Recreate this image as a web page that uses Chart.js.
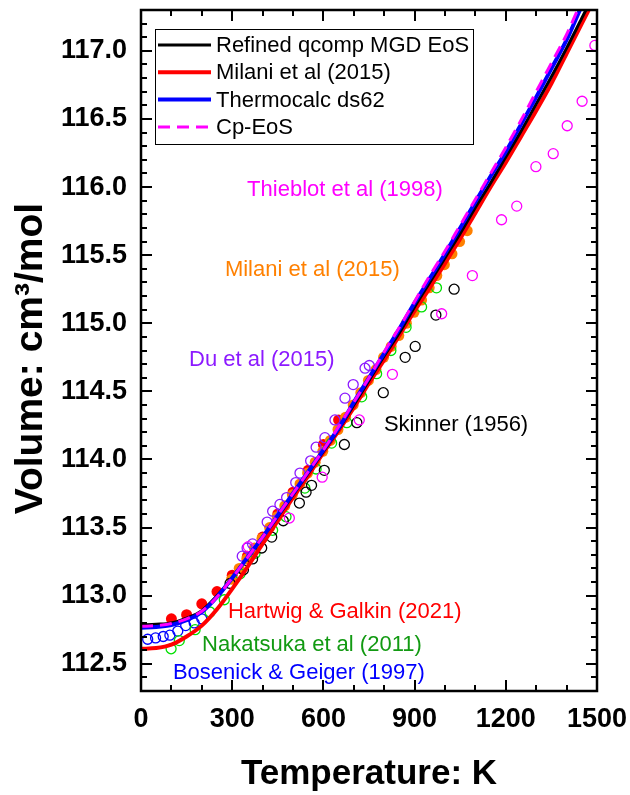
<!DOCTYPE html>
<html>
<head>
<meta charset="utf-8">
<script src="https://cdn.jsdelivr.net/npm/chart.js@4.4.1/dist/chart.umd.min.js"></script>
<style>
  html, body { margin: 0; padding: 0; background: #fff; }
</style>
</head>
<body>
<canvas id="volChart" width="630" height="795"></canvas>
<script>
// Model curves, sampled every 50 K
const curveT = [0, 50, 100, 150, 200, 250, 300, 350, 400, 450, 500, 550, 600, 650, 700, 750,
                800, 850, 900, 950, 1000, 1050, 1100, 1150, 1200, 1250, 1300, 1350, 1400, 1450, 1500];
const qcompV = [112.785, 112.79, 112.80, 112.835, 112.89, 113.0, 113.13, 113.28, 113.43, 113.58, 113.74,
                113.90, 114.06, 114.22, 114.40, 114.58, 114.76, 114.93, 115.12, 115.30, 115.48, 115.66,
                115.85, 116.03, 116.22, 116.41, 116.61, 116.81, 117.02, 117.24, 117.46];
const milaniV = [112.61, 112.615, 112.64, 112.70, 112.78, 112.90, 113.05, 113.21, 113.38, 113.55, 113.72,
                 113.88, 114.05, 114.21, 114.38, 114.56, 114.73, 114.91, 115.09, 115.26, 115.44, 115.62,
                 115.81, 116.0, 116.18, 116.37, 116.56, 116.76, 116.98, 117.20, 117.42];
const thermocalcV = [112.765, 112.77, 112.785, 112.82, 112.88, 112.99, 113.13, 113.28, 113.43, 113.59, 113.75,
                     113.91, 114.07, 114.23, 114.42, 114.60, 114.78, 114.96, 115.15, 115.33, 115.51, 115.70,
                     115.89, 116.08, 116.26, 116.46, 116.66, 116.87, 117.08, 117.33, 117.55];
const cpEosV = [112.775, 112.78, 112.795, 112.83, 112.885, 112.99, 113.13, 113.28, 113.43, 113.59, 113.75,
                113.91, 114.07, 114.24, 114.42, 114.60, 114.79, 114.97, 115.16, 115.35, 115.53, 115.72,
                115.91, 116.10, 116.29, 116.49, 116.70, 116.91, 117.12, 117.37, 117.60];

// Measured volumes
const thieblotT = [353, 488, 596, 718, 827, 989, 1090, 1186, 1236, 1299, 1356, 1402, 1451, 1493];
const thieblotV = [113.36, 113.57, 113.87, 114.29, 114.625, 115.07, 115.35, 115.76, 115.86, 116.15, 116.245, 116.45, 116.63, 117.04];

const milaniPtsT = [298, 323, 348, 373, 398, 423, 448, 473, 498, 523, 548, 573, 598, 623, 648, 673,
                    698, 723, 748, 773, 798, 823, 848, 873, 898, 923, 948, 973, 998, 1023, 1048, 1073];
const milaniPtsV = [113.12, 113.20, 113.27, 113.35, 113.42, 113.50, 113.58, 113.66, 113.74, 113.82, 113.90,
                    113.98, 114.06, 114.14, 114.22, 114.31, 114.40, 114.49, 114.58, 114.66, 114.75, 114.83,
                    114.91, 115.00, 115.08, 115.17, 115.26, 115.35, 115.43, 115.51, 115.60, 115.68];

const duT = [333, 349, 367, 415, 433, 457, 479, 509, 523, 558, 576, 605, 638, 671, 698, 737, 751];
const duV = [113.29, 113.35, 113.38, 113.54, 113.62, 113.67, 113.72, 113.83, 113.90, 113.99, 114.09,
             114.16, 114.29, 114.45, 114.55, 114.67, 114.69];

const skinnerT = [293, 337, 367, 397, 430, 468, 521, 543, 561, 603, 669, 710, 797, 869, 902, 970, 1030];
const skinnerV = [113.09, 113.19, 113.27, 113.35, 113.43, 113.55, 113.68, 113.76, 113.81, 113.92, 114.11,
                  114.27, 114.49, 114.75, 114.83, 115.06, 115.25];

const hartwigT = [100, 150, 200, 250, 300, 350, 400, 450, 500, 550, 600, 650];
const hartwigV = [112.83, 112.86, 112.94, 113.03, 113.15, 113.29, 113.43, 113.60, 113.76, 113.92, 114.11, 114.29];

const nakatsukaT = [99, 126, 178, 227, 274, 326, 375, 433, 477, 539, 576, 627, 677, 726, 775, 822, 872, 923, 972];
const nakatsukaV = [112.61, 112.67, 112.75, 112.88, 112.97, 113.16, 113.31, 113.48, 113.58, 113.79, 113.93,
                    114.12, 114.27, 114.46, 114.63, 114.80, 114.97, 115.12, 115.26];

const bosenickT = [22, 48, 73, 95, 121, 147, 175, 200];
const bosenickV = [112.68, 112.69, 112.70, 112.71, 112.74, 112.78, 112.80, 112.83];

// Axis ticks
const xTicks = [0, 300, 600, 900, 1200, 1500];
const xMinorTicks = [100, 200, 400, 500, 700, 800, 1000, 1100, 1300, 1400];
const yTicks = [112.5, 113.0, 113.5, 114.0, 114.5, 115.0, 115.5, 116.0, 116.5, 117.0];
const yMinorTicks = [112.3, 112.4, 112.6, 112.7, 112.8, 112.9, 113.1, 113.2, 113.3, 113.4, 113.6, 113.7, 113.8, 113.9,
                     114.1, 114.2, 114.3, 114.4, 114.6, 114.7, 114.8, 114.9, 115.1, 115.2, 115.3, 115.4,
                     115.6, 115.7, 115.8, 115.9, 116.1, 116.2, 116.3, 116.4, 116.6, 116.7, 116.8, 116.9,
                     117.1, 117.2];

// Data labels placed in the plot (T, V of the text's left/middle)
const dataLabels = [
  { text: 'Thieblot et al (1998)', t: 349, v: 115.98, color: '#ff00ff' },
  { text: 'Milani et al (2015)', t: 276, v: 115.39, color: '#ff8000' },
  { text: 'Du et al (2015)', t: 158, v: 114.73, color: '#8c1aff' },
  { text: 'Skinner (1956)', t: 799, v: 114.25, color: '#000000' },
  { text: 'Hartwig & Galkin (2021)', t: 286, v: 112.88, color: '#ff0000' },
  { text: 'Nakatsuka et al (2011)', t: 201, v: 112.64, color: '#129a12' },
  { text: 'Bosenick & Geiger (1997)', t: 105, v: 112.43, color: '#0000ff' }
];

const FONT = '"Liberation Sans", Arial, sans-serif';

function pts(xs, ys) {
  return xs.map((x, i) => ({ x: x, y: ys[i] }));
}

function curve(label, ys, color, width, order, dash) {
  return {
    label: label,
    data: pts(curveT, ys),
    showLine: true,
    borderColor: color,
    borderWidth: width,
    borderDash: dash || [],
    pointRadius: 0,
    cubicInterpolationMode: 'monotone',
    order: order,
    inLegend: true
  };
}

function markers(label, xs, ys, color, filled, order) {
  return {
    label: label,
    data: pts(xs, ys),
    showLine: false,
    pointStyle: 'circle',
    pointRadius: filled ? 5.5 : 5,
    borderWidth: filled ? 0 : 1.3,
    borderColor: color,
    backgroundColor: filled ? color : 'rgba(0,0,0,0)',
    order: order
  };
}

// Frame, inward ticks on all four sides, text labels, y title and the boxed legend
const overlayPlugin = {
  id: 'overlay',
  afterDatasetsDraw(chart) {
    const ctx = chart.ctx;
    const area = chart.chartArea;
    const xs = chart.scales.x;
    const ys = chart.scales.y;

    ctx.save();
    // text labels
    ctx.font = '22px ' + FONT;
    ctx.textAlign = 'left';
    ctx.textBaseline = 'middle';
    dataLabels.forEach(l => {
      ctx.fillStyle = l.color;
      ctx.fillText(l.text, xs.getPixelForValue(l.t), ys.getPixelForValue(l.v));
    });

    // legend box
    const lx = area.left + 14, ly = area.top + 19, lw = 318, lh = 115;
    ctx.fillStyle = '#fff';
    ctx.fillRect(lx, ly, lw, lh);
    ctx.strokeStyle = '#000';
    ctx.lineWidth = 1;
    ctx.strokeRect(lx + 0.5, ly + 0.5, lw, lh);
    const entries = chart.data.datasets.filter(d => d.inLegend);
    entries.forEach((d, i) => {
      const rowY = ly + 16 + i * 27.3;
      ctx.beginPath();
      ctx.strokeStyle = d.borderColor;
      ctx.lineWidth = d.borderWidth;
      ctx.setLineDash(d.borderDash);
      ctx.moveTo(lx + 3, rowY);
      ctx.lineTo(lx + 56, rowY);
      ctx.stroke();
      ctx.setLineDash([]);
      ctx.fillStyle = '#000';
      ctx.fillText(d.label, lx + 61, rowY + 1);
    });

    // frame
    ctx.strokeStyle = '#000';
    ctx.lineWidth = 2.5;
    ctx.strokeRect(area.left, area.top, area.right - area.left, area.bottom - area.top);

    // ticks pointing into the plot
    ctx.lineWidth = 2;
    const tickX = (vals, len) => vals.forEach(v => {
      const px = Math.round(xs.getPixelForValue(v));
      ctx.beginPath();
      ctx.moveTo(px, area.bottom); ctx.lineTo(px, area.bottom - len);
      ctx.moveTo(px, area.top); ctx.lineTo(px, area.top + len);
      ctx.stroke();
    });
    const tickY = (vals, len) => vals.forEach(v => {
      const py = Math.round(ys.getPixelForValue(v));
      ctx.beginPath();
      ctx.moveTo(area.left, py); ctx.lineTo(area.left + len, py);
      ctx.moveTo(area.right, py); ctx.lineTo(area.right - len, py);
      ctx.stroke();
    });
    tickX(xTicks, 11);
    tickX(xMinorTicks, 6);
    tickY(yTicks, 11);
    tickY(yMinorTicks, 6);

    // y axis title, rotated
    ctx.translate(31, (area.top + area.bottom) / 2 + 8);
    ctx.rotate(-Math.PI / 2);
    ctx.font = 'bold 39px ' + FONT;
    ctx.textAlign = 'center';
    ctx.fillStyle = '#000';
    ctx.fillText('Volume: cm³/mol', 0, 0);
    ctx.restore();
  }
};

new Chart(document.getElementById('volChart'), {
  type: 'scatter',
  data: {
    datasets: [
      curve('Refined qcomp MGD EoS', qcompV, '#000000', 3, 3),
      curve('Milani et al (2015)', milaniV, '#ff0000', 4, 4),
      curve('Thermocalc ds62', thermocalcV, '#0000ff', 4, 2),
      curve('Cp-EoS', cpEosV, '#ff00ff', 3, 1, [12, 7]),
      markers('Thieblot et al (1998)', thieblotT, thieblotV, '#ff00ff', false, 10),
      markers('Skinner (1956)', skinnerT, skinnerV, '#000000', false, 11),
      markers('Nakatsuka et al (2011)', nakatsukaT, nakatsukaV, '#00e000', false, 12),
      markers('Du et al (2015)', duT, duV, '#8c1aff', false, 13),
      markers('Milani et al (2015) data', milaniPtsT, milaniPtsV, '#ff8000', true, 14),
      markers('Hartwig & Galkin (2021)', hartwigT, hartwigV, '#ff0000', true, 15),
      markers('Bosenick & Geiger (1997)', bosenickT, bosenickV, '#0000ff', false, 16)
    ]
  },
  options: {
    responsive: false,
    animation: false,
    devicePixelRatio: 1,
    layout: { padding: { left: 0, right: 33, top: 10, bottom: 0 } },
    plugins: { legend: { display: false }, tooltip: { enabled: false } },
    scales: {
      x: {
        type: 'linear',
        min: 0,
        max: 1500,
        afterBuildTicks: s => { s.ticks = xTicks.map(v => ({ value: v })); },
        afterFit: s => { s.height = 104; s.paddingLeft = 0; s.paddingRight = 0; },
        grid: { display: false, drawTicks: false },
        border: { display: false },
        ticks: {
          padding: 12,
          color: '#000',
          maxRotation: 0,
          autoSkip: false,
          font: { family: FONT, size: 27, weight: 'bold' },
          callback: v => String(v)
        },
        title: {
          display: true,
          text: 'Temperature: K',
          color: '#000',
          padding: { top: 0, bottom: 0 },
          font: { family: FONT, size: 35, weight: 'bold' }
        }
      },
      y: {
        type: 'linear',
        min: 112.3,
        max: 117.3,
        afterBuildTicks: s => { s.ticks = yTicks.map(v => ({ value: v })); },
        afterFit: s => { s.width = 141; s.paddingTop = 0; s.paddingBottom = 0; },
        grid: { display: false, drawTicks: false },
        border: { display: false },
        ticks: {
          padding: 14,
          color: '#000',
          autoSkip: false,
          font: { family: FONT, size: 27, weight: 'bold' },
          callback: v => v.toFixed(1)
        }
      }
    }
  },
  plugins: [overlayPlugin]
});
</script>
</body>
</html>
